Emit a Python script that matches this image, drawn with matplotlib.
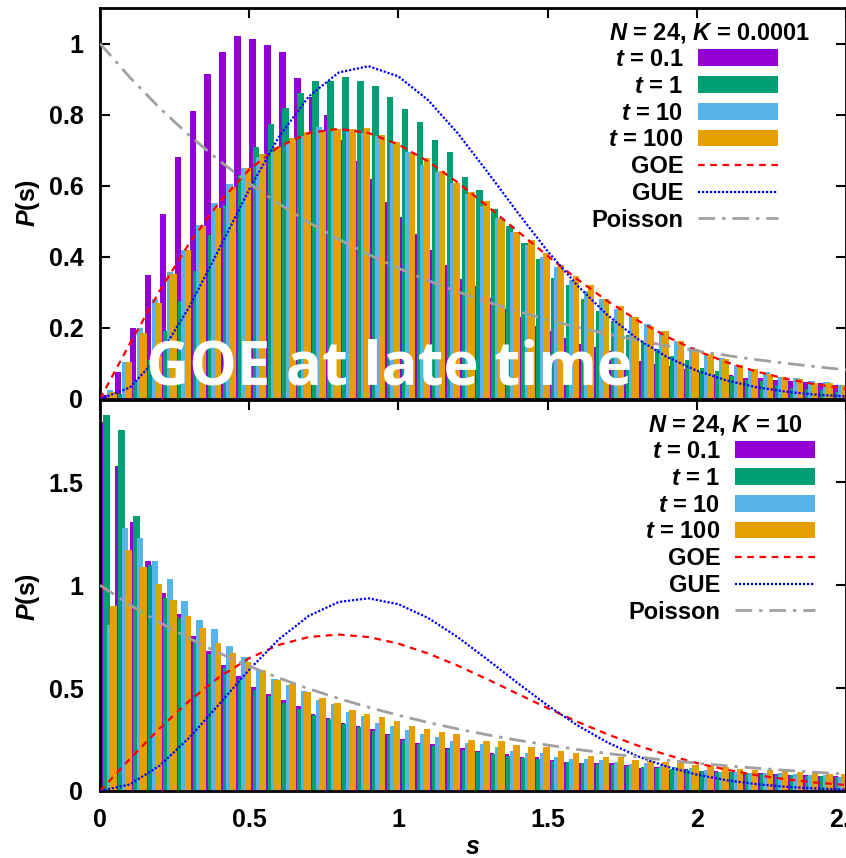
import numpy as np
import matplotlib
matplotlib.use("Agg")
import matplotlib.pyplot as plt
from matplotlib.patches import Patch
from matplotlib.lines import Line2D
from matplotlib.font_manager import FontProperties

plt.rcParams["font.family"] = ["Liberation Sans", "DejaVu Sans"]
plt.rcParams["font.weight"] = "bold"
plt.rcParams["mathtext.fontset"] = "custom"
plt.rcParams["mathtext.it"] = "Liberation Sans:italic:bold"
plt.rcParams["mathtext.rm"] = "Liberation Sans:bold"

# ---- histogram settings ----
bin_width = 0.05
n_bins = 50

# ---- level-spacing histograms, N = 24, K = 0.0001 ----
weak_t01 = [0.012, 0.077, 0.20, 0.35, 0.52, 0.68, 0.81, 0.915, 0.977, 1.022,
            1.014, 0.997, 0.977, 0.903, 0.85, 0.80, 0.73, 0.67, 0.62, 0.555,
            0.512, 0.465, 0.418, 0.376, 0.338, 0.319, 0.283, 0.253, 0.23, 0.206,
            0.192, 0.173, 0.156, 0.147, 0.135, 0.125, 0.107, 0.099, 0.094, 0.085,
            0.075, 0.07, 0.068, 0.06, 0.06, 0.053, 0.051, 0.047, 0.045, 0.04]
weak_t1 = [0.0, 0.015, 0.05, 0.11, 0.19, 0.275, 0.36, 0.46, 0.545, 0.63,
           0.71, 0.773, 0.82, 0.862, 0.895, 0.896, 0.906, 0.896, 0.88, 0.85,
           0.815, 0.78, 0.73, 0.694, 0.625, 0.588, 0.534, 0.486, 0.439, 0.395,
           0.341, 0.32, 0.28, 0.247, 0.22, 0.18, 0.164, 0.14, 0.12, 0.109,
           0.088, 0.079, 0.065, 0.053, 0.05, 0.04, 0.032, 0.028, 0.024, 0.02]
weak_t10 = [0.025, 0.105, 0.2, 0.28, 0.356, 0.42, 0.49, 0.55, 0.605, 0.65,
            0.68, 0.695, 0.72, 0.74, 0.765, 0.76, 0.752, 0.749, 0.74, 0.72,
            0.695, 0.658, 0.64, 0.607, 0.578, 0.542, 0.508, 0.47, 0.432, 0.40,
            0.372, 0.335, 0.305, 0.282, 0.254, 0.23, 0.211, 0.19, 0.164, 0.147,
            0.128, 0.115, 0.095, 0.085, 0.077, 0.062, 0.058, 0.051, 0.047, 0.04]
weak_t100 = [0.02, 0.103, 0.187, 0.269, 0.352, 0.418, 0.487, 0.538, 0.597, 0.651,
             0.69, 0.71, 0.733, 0.75, 0.754, 0.76, 0.76, 0.762, 0.743, 0.722,
             0.693, 0.677, 0.642, 0.607, 0.583, 0.556, 0.505, 0.47, 0.446, 0.41,
             0.377, 0.345, 0.322, 0.282, 0.263, 0.23, 0.206, 0.192, 0.164, 0.14,
             0.126, 0.112, 0.096, 0.084, 0.071, 0.063, 0.056, 0.046, 0.045, 0.04]

# ---- level-spacing histograms, N = 24, K = 10 ----
strong_t01 = [1.793, 1.579, 1.307, 1.118, 0.96, 0.858, 0.752, 0.68, 0.612, 0.558,
              0.503, 0.471, 0.442, 0.414, 0.374, 0.356, 0.332, 0.317, 0.30, 0.275,
              0.252, 0.231, 0.227, 0.21, 0.21, 0.194, 0.186, 0.18, 0.167, 0.163,
              0.15, 0.142, 0.134, 0.134, 0.134, 0.126, 0.113, 0.118, 0.102, 0.105,
              0.097, 0.097, 0.09, 0.086, 0.086, 0.081, 0.078, 0.078, 0.073, 0.073]
strong_t1 = [1.825, 1.756, 1.335, 1.10, 0.94, 0.84, 0.74, 0.665, 0.60, 0.545,
             0.49, 0.46, 0.43, 0.40, 0.37, 0.35, 0.325, 0.31, 0.29, 0.27,
             0.25, 0.23, 0.22, 0.205, 0.20, 0.19, 0.18, 0.17, 0.16, 0.157,
             0.148, 0.14, 0.135, 0.13, 0.125, 0.12, 0.115, 0.11, 0.105, 0.10,
             0.098, 0.093, 0.09, 0.087, 0.085, 0.08, 0.078, 0.075, 0.073, 0.07]
strong_t10 = [0.806, 1.278, 1.23, 1.117, 1.032, 0.922, 0.83, 0.785, 0.704, 0.649,
              0.59, 0.542, 0.515, 0.485, 0.442, 0.422, 0.385, 0.366, 0.332, 0.316,
              0.296, 0.275, 0.264, 0.243, 0.231, 0.228, 0.212, 0.196, 0.183, 0.183,
              0.164, 0.156, 0.156, 0.15, 0.139, 0.13, 0.134, 0.123, 0.118, 0.11,
              0.102, 0.094, 0.094, 0.089, 0.089, 0.086, 0.083, 0.078, 0.078, 0.07]
strong_t100 = [0.9, 1.173, 1.089, 1.008, 0.93, 0.85, 0.793, 0.72, 0.673, 0.625,
               0.59, 0.539, 0.518, 0.481, 0.45, 0.426, 0.393, 0.374, 0.358, 0.341,
               0.317, 0.301, 0.288, 0.275, 0.248, 0.243, 0.243, 0.223, 0.212, 0.212,
               0.196, 0.183, 0.171, 0.167, 0.163, 0.15, 0.147, 0.142, 0.134, 0.126,
               0.121, 0.118, 0.105, 0.102, 0.102, 0.097, 0.091, 0.086, 0.083, 0.083]

# ---- reference distributions sampled on s ----
s_curve = [0.0, 0.1, 0.2, 0.3, 0.4, 0.5, 0.6, 0.7, 0.8, 0.9, 1.0, 1.1, 1.2,
           1.3, 1.4, 1.5, 1.6, 1.7, 1.8, 1.9, 2.0, 2.1, 2.2, 2.3, 2.4, 2.5]
goe = [0.0, 0.1559, 0.3044, 0.4391, 0.5541, 0.6454, 0.7104, 0.7483, 0.7602,
       0.7483, 0.7162, 0.6681, 0.6083, 0.5416, 0.4718, 0.4025, 0.3366, 0.2759,
       0.2219, 0.1752, 0.1358, 0.1033, 0.0772, 0.0567, 0.0409, 0.0290]
gue = [0.0, 0.0320, 0.1233, 0.2602, 0.4231, 0.5896, 0.7380, 0.8514, 0.9186,
       0.9363, 0.9076, 0.8406, 0.7464, 0.6371, 0.5242, 0.4158, 0.3189, 0.2365,
       0.1698, 0.1181, 0.0797, 0.0521, 0.0331, 0.0204, 0.0122, 0.0071]
poisson = [1.0, 0.9048, 0.8187, 0.7408, 0.6703, 0.6065, 0.5488, 0.4966, 0.4493,
           0.4066, 0.3679, 0.3329, 0.3012, 0.2725, 0.2466, 0.2231, 0.2019, 0.1827,
           0.1653, 0.1496, 0.1353, 0.1225, 0.1108, 0.1003, 0.0907, 0.0821]

series_labels = [r"$t$ = 0.1", r"$t$ = 1", r"$t$ = 10", r"$t$ = 100"]
curve_labels = ["GOE", "GUE", "Poisson"]
bar_colors = ["#9400d3", "#009e73", "#56b4e9", "#e69f00"]
x_ticks = [0, 0.5, 1, 1.5, 2, 2.5]
x_ticklabels = ["0", "0.5", "1", "1.5", "2", "2.5"]
top_yticks = [0, 0.2, 0.4, 0.6, 0.8, 1]
top_yticklabels = ["0", "0.2", "0.4", "0.6", "0.8", "1"]
bot_yticks = [0, 0.5, 1, 1.5]
bot_yticklabels = ["0", "0.5", "1", "1.5"]

curve_styles = [
    dict(color="#ff0000", lw=1.6, ls=(0, (3, 2.5))),
    dict(color="#0000ff", lw=1.6, ls=(0, (1, 0.8))),
    dict(color="#a0a0a0", lw=2.0, ls=(0, (6, 2.5, 1.2, 2.5))),
]

W, H = 846, 858
fig = plt.figure(figsize=(W / 100, H / 100), dpi=100)
ax_top = fig.add_axes([100 / W, 1 - 399 / H, 746 / W, 391 / H])
ax_bot = fig.add_axes([100 / W, 1 - 791 / H, 746 / W, 391 / H])

fs = 18
legend_font = FontProperties(family="Liberation Sans", weight="bold", size=17)


def draw_panel(ax, series, title, ylim, yticks, yticklabels, leg_anchor,
               title_pos):
    left = np.arange(n_bins) * bin_width
    for i, (vals, col) in enumerate(zip(series, bar_colors)):
        ax.bar(left + i * 0.0115, vals, width=0.022, align="edge",
               color=col, linewidth=0, zorder=2)
    for vals, st in zip([goe, gue, poisson], curve_styles):
        ax.plot(s_curve, vals, zorder=3, **st)
    ax.set_xlim(0, 2.5)
    ax.set_ylim(*ylim)
    ax.set_xticks(x_ticks)
    ax.set_xticklabels(x_ticklabels)
    ax.set_yticks(yticks)
    ax.set_yticklabels(yticklabels)
    ax.tick_params(direction="in", top=True, right=True, length=7, width=1.5,
                   labelsize=fs, pad=12)
    for sp in ax.spines.values():
        sp.set_linewidth(2)
    handles = [Patch(facecolor=c, edgecolor="none") for c in bar_colors]
    handles += [Line2D([], [], **st) for st in curve_styles]
    leg = ax.legend(handles, series_labels + curve_labels,
                    loc="upper right", bbox_to_anchor=leg_anchor,
                    frameon=False, markerfirst=False, borderpad=0,
                    borderaxespad=0, handlelength=3.4, handleheight=0.7,
                    handletextpad=0.6, labelspacing=0.16, prop=legend_font)
    leg.set_zorder(5)
    # key title, right-aligned above the entries
    ax.text(title_pos[0], title_pos[1], title, transform=ax.transAxes,
            ha="right", va="center", fontproperties=legend_font, zorder=5)


draw_panel(ax_top, [weak_t01, weak_t1, weak_t10, weak_t100],
           r"$N$ = 24, $K$ = 0.0001", (0, 1.1), top_yticks, top_yticklabels,
           ((778 - 100) / 746, (399 - 48) / 391),
           ((810 - 100) / 746, (399 - 33) / 391))
ax_top.tick_params(labelbottom=False)

draw_panel(ax_bot, [strong_t01, strong_t1, strong_t10, strong_t100],
           r"$N$ = 24, $K$ = 10", (0, 1.9), bot_yticks, bot_yticklabels,
           ((815 - 100) / 746, (791 - 440) / 391),
           ((803 - 100) / 746, (791 - 425) / 391))

# axis titles
fig.text(28 / W, 1 - 203 / H, r"$P$(s)", rotation=90, ha="center", va="center",
         fontsize=fs)
fig.text(28 / W, 1 - 597 / H, r"$P$(s)", rotation=90, ha="center", va="center",
         fontsize=fs)
fig.text(473 / W, 1 - 847 / H, r"$s$", ha="center", va="center", fontsize=fs)

# headline annotation
fig.text(146 / W, 1 - 385 / H, "GOE at late time", color="white",
         family="Open Sans", weight="bold", fontsize=43, ha="left",
         va="baseline", zorder=10)

fig.savefig("out.png", dpi=100)
